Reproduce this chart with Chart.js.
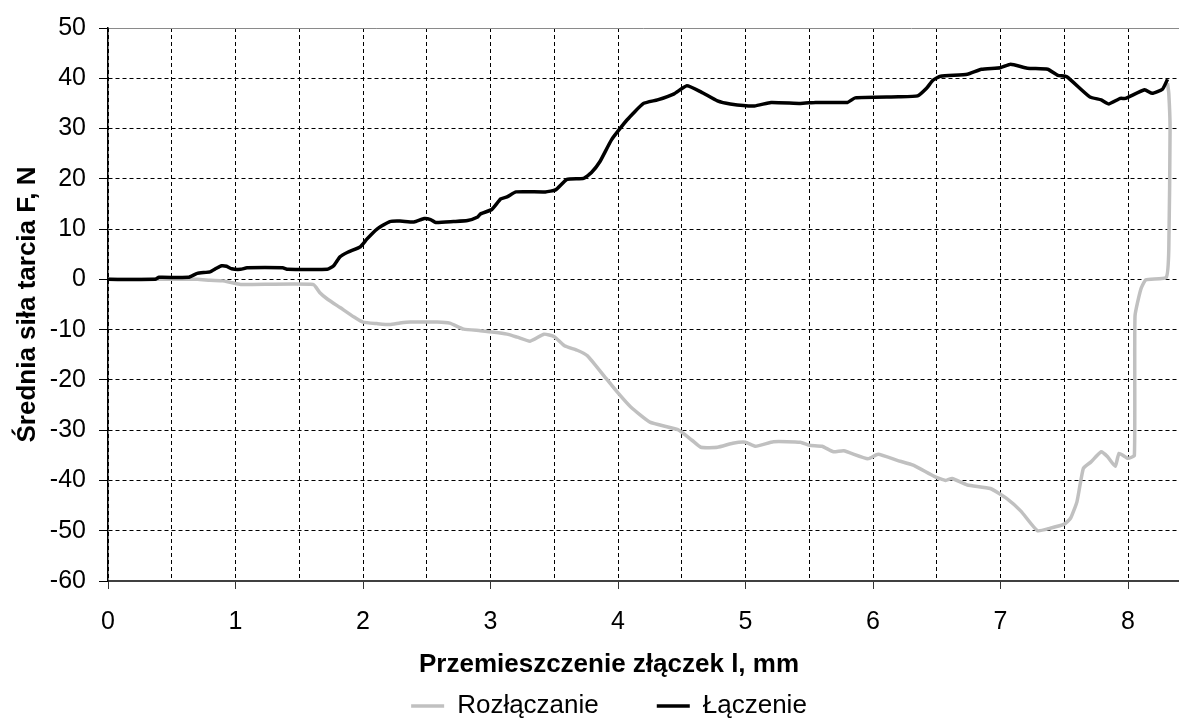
<!DOCTYPE html>
<html>
<head>
<meta charset="utf-8">
<script src="https://cdn.jsdelivr.net/npm/chart.js"></script>
<style>
html,body{margin:0;padding:0;background:#ffffff;}
#wrap{width:1179px;height:718px;position:relative;}
</style>
</head>
<body>
<div id="wrap"><canvas id="c"></canvas></div>
<script>
// ---- data ----
const seriesNames = ['Rozłączanie', 'Łączenie'];
const xAxisTitle = 'Przemieszczenie złączek l, mm';
const yAxisTitle = 'Średnia siła tarcia F, N';

const rozX = [0, 0.7, 0.8, 0.9, 0.96, 1.04, 1.61, 1.66, 1.72, 1.82, 1.93, 2.0, 2.11, 2.21, 2.29, 2.37, 2.58, 2.68, 2.79, 2.92, 3.03, 3.13, 3.21, 3.31, 3.42, 3.5, 3.58, 3.68, 3.76, 3.89, 4.0, 4.1, 4.25, 4.47, 4.58, 4.65, 4.78, 4.9, 5.0, 5.08, 5.22, 5.43, 5.5, 5.6, 5.69, 5.77, 5.96, 6.04, 6.19, 6.32, 6.48, 6.57, 6.62, 6.74, 6.92, 7.05, 7.16, 7.29, 7.39, 7.5, 7.55, 7.6, 7.65, 7.71, 7.79, 7.84, 7.9, 7.93, 8.0, 8.05, 8.055, 8.1, 8.14, 8.3, 8.32, 8.33, 8.32, 8.31];
const rozY = [0, 0, -0.2, -0.3, -0.6, -1, -1, -2.6, -3.9, -5.6, -7.5, -8.5, -8.8, -9, -8.7, -8.5, -8.5, -8.7, -9.9, -10.2, -10.5, -10.9, -11.5, -12.3, -10.9, -11.4, -13.2, -14.1, -15.2, -19.2, -22.6, -25.4, -28.4, -29.9, -32, -33.4, -33.4, -32.6, -32.4, -33.2, -32.3, -32.4, -33, -33.2, -34.3, -34.1, -35.7, -34.8, -36, -37, -39.2, -40, -39.6, -40.9, -41.6, -43.6, -46.1, -50, -49.5, -48.7, -47.5, -44.2, -37.6, -36.3, -34.3, -35.3, -37.2, -34.6, -35.6, -35, -7.3, -2, -0.1, 0.4, 6, 30, 37, 39];

const lacX = [0, 0.37, 0.4, 0.63, 0.7, 0.8, 0.85, 0.89, 0.93, 0.97, 1.04, 1.09, 1.37, 1.41, 1.72, 1.77, 1.82, 1.88, 1.98, 2.03, 2.11, 2.21, 2.29, 2.4, 2.48, 2.53, 2.57, 2.71, 2.82, 2.9, 2.92, 3.01, 3.08, 3.13, 3.2, 3.43, 3.51, 3.6, 3.73, 3.79, 3.86, 3.95, 4.07, 4.2, 4.31, 4.44, 4.54, 4.65, 4.78, 4.88, 5.07, 5.2, 5.43, 5.55, 5.8, 5.86, 6.2, 6.35, 6.42, 6.47, 6.53, 6.74, 6.85, 7.0, 7.08, 7.21, 7.37, 7.45, 7.52, 7.7, 7.79, 7.85, 7.94, 7.98, 8.13, 8.19, 8.27, 8.31];
const lacY = [0, 0, 0.4, 0.4, 1.2, 1.5, 2.2, 2.7, 2.6, 2.1, 2.0, 2.3, 2.3, 2.0, 2.0, 2.7, 4.5, 5.4, 6.5, 8, 10, 11.5, 11.6, 11.4, 12.1, 11.9, 11.3, 11.5, 11.7, 12.4, 13, 13.9, 16, 16.4, 17.4, 17.4, 17.8, 19.9, 20.1, 21.2, 23.5, 27.8, 31.7, 35, 35.7, 36.9, 38.5, 37.3, 35.5, 34.9, 34.5, 35.2, 35, 35.2, 35.2, 36.1, 36.3, 36.5, 38, 39.6, 40.4, 40.8, 41.8, 42.1, 42.8, 42, 41.8, 40.6, 40.3, 36.3, 35.7, 34.9, 36, 36, 37.7, 37, 37.8, 39.8];

const xMin = 0, xMax = 8.4, xStep = 0.5;
const yMin = -60, yMax = 50, yStep = 10;

// ---- chart ----
const FONT = "'Liberation Sans', Arial, sans-serif";
Chart.defaults.font.family = FONT;
Chart.defaults.color = '#000';

const toPts = (xs, ys) => xs.map((x, i) => ({x: x, y: ys[i]}));

new Chart(document.getElementById('c'), {
  type: 'line',
  data: {
    datasets: [
      {
        label: seriesNames[0],
        data: toPts(rozX, rozY),
        borderColor: '#c0c0c0',
        backgroundColor: '#c0c0c0',
        borderWidth: 3.5,
        pointRadius: 0,
        tension: 0.15,
        fill: false,
        order: 2
      },
      {
        label: seriesNames[1],
        data: toPts(lacX, lacY),
        borderColor: '#000000',
        backgroundColor: '#000000',
        borderWidth: 3.5,
        pointRadius: 0,
        tension: 0.15,
        fill: false,
        order: 1
      }
    ]
  },
  options: {
    responsive: true,
    maintainAspectRatio: false,
    animation: false,
    devicePixelRatio: 1,
    layout: { padding: { top: 28, left: 0, right: -39, bottom: -11 } },
    scales: {
      x: {
        type: 'linear',
        min: xMin, max: xMax,
        afterFit: s => { s.height = 53; },
        ticks: {
          stepSize: xStep,
          includeBounds: false,
          autoSkip: false,
          maxRotation: 0,
          padding: 18,
          font: { size: 25 },
          color: '#000',
          callback: v => (Math.abs(v - Math.round(v)) < 1e-9 ? String(Math.round(v)) : '')
        },
        grid: {
          color: '#000',
          lineWidth: 1,
          tickLength: 8,
          tickWidth: 1,
          tickColor: c => (c.tick && Math.abs(c.tick.value - Math.round(c.tick.value)) < 1e-9 ? '#333' : 'rgba(0,0,0,0)')
        },
        border: { color: '#404040', width: 2, dash: [4, 3] }
      },
      y: {
        type: 'linear',
        min: yMin, max: yMax,
        afterFit: s => { s.width = 108; },
        ticks: {
          stepSize: yStep,
          padding: 13,
          font: { size: 25 },
          color: '#000'
        },
        grid: {
          color: c => (c.tick && c.tick.value === yMax ? '#8a8a8a' : '#000'),
          lineWidth: 1,
          tickLength: 9,
          tickColor: '#000'
        },
        border: {
          color: '#000', width: 1.5,
          dash: c => (c.tick && c.tick.value === yMax ? [] : [4, 3])
        },
        title: {
          display: true,
          text: yAxisTitle,
          font: { size: 26, weight: 'bold' },
          color: '#000',
          padding: { top: 12, bottom: 0 }
        }
      }
    },
    plugins: {
      title: {
        display: true,
        text: xAxisTitle,
        position: 'bottom',
        weight: 500,
        color: '#000',
        font: { size: 26, weight: 'bold' },
        padding: { top: 15.4, bottom: -45.6 }
      },
      legend: {
        display: true,
        position: 'bottom',
        weight: 1000,
        labels: {
          usePointStyle: true,
          pointStyle: 'line',
          pointStyleWidth: 33,
          padding: 58,
          color: '#000',
          font: { size: 26 },
          sort: (a, b) => a.datasetIndex - b.datasetIndex
        }
      },
      tooltip: { enabled: false }
    }
  }
});
</script>
</body>
</html>
